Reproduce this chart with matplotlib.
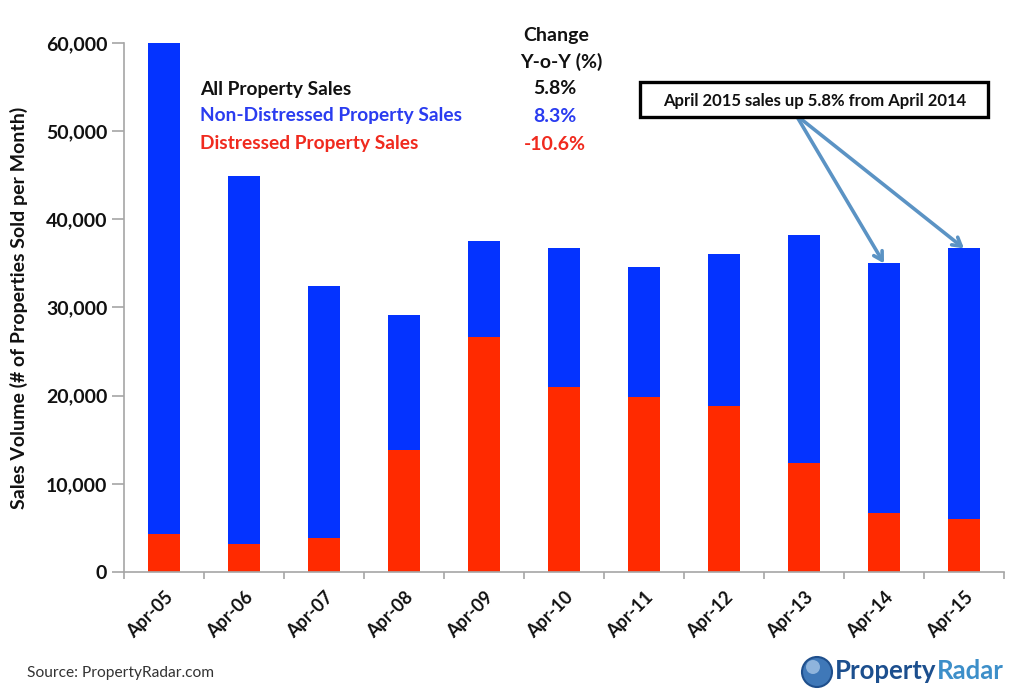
import matplotlib
matplotlib.use("Agg")
import matplotlib.pyplot as plt
from matplotlib.patches import Circle, Rectangle

months = ['Apr-05', 'Apr-06', 'Apr-07', 'Apr-08', 'Apr-09', 'Apr-10', 'Apr-11', 'Apr-12', 'Apr-13', 'Apr-14', 'Apr-15']
distressed = [4300, 3200, 3800, 13800, 26700, 21000, 19900, 18800, 12400, 6700, 6000]
non_distressed = [55700, 41700, 28600, 15400, 10800, 15800, 14700, 17300, 25800, 28300, 30700]
y_ticks = [0, 10000, 20000, 30000, 40000, 50000, 60000]
legend_names = ['All Property Sales', 'Non-Distressed Property Sales', 'Distressed Property Sales']
legend_changes = ['5.8%', '8.3%', '-10.6%']
legend_colors = ['#111111', '#2a3cf0', '#f02a1e']

W, H = 1024, 696
plt.rcParams['font.family'] = ['Lato', 'DejaVu Sans']
plt.rcParams['font.weight'] = 'bold'

fig = plt.figure(figsize=(W / 100, H / 100), dpi=100)
ax = fig.add_axes([124 / W, (H - 572) / H, 880 / W, 529 / H])

def fx(px):
    return px / W

def fy(py):
    return (H - py) / H

x = list(range(len(months)))
ax.bar(x, distressed, width=0.4, color='#ff2a00')
ax.bar(x, non_distressed, bottom=distressed, width=0.4, color='#0433ff')

ax.set_xlim(-0.5, 10.5)
ax.set_ylim(0, 60000)
ax.set_yticks(y_ticks)
ax.set_yticklabels([f'{v:,}' for v in y_ticks], fontsize=14, color='#111111', fontweight='bold')
ax.set_xticks([i - 0.5 for i in range(12)])
ax.set_xticklabels([])
ax.tick_params(axis='y', length=9, color='#a6a6a6', width=1.2, pad=3)
ax.tick_params(axis='x', length=5, color='#a6a6a6', width=1.2)
for i, m in enumerate(months):
    ax.annotate(m, xy=(i, 0), xycoords=('data', 'axes fraction'), xytext=(0, -12),
                textcoords='offset points', rotation=45, ha='right', va='top',
                rotation_mode='anchor', fontsize=13, color='#111111')
for s in ['top', 'right']:
    ax.spines[s].set_visible(False)
for s in ['left', 'bottom']:
    ax.spines[s].set_color('#a6a6a6')
    ax.spines[s].set_linewidth(1.2)
ax.set_ylabel('Sales Volume (# of Properties Sold per Month)', fontsize=14, color='#111111',
              labelpad=13, fontweight='bold')

# legend table at the top
fig.text(fx(556), fy(35), 'Change', fontsize=14, ha='center', va='center', color='#111111')
fig.text(fx(561), fy(62), 'Y-o-Y (%)', fontsize=14, ha='center', va='center', color='#111111')
for name, change, color, py in zip(legend_names, legend_changes, legend_colors, [89, 116, 144]):
    fig.text(fx(200), fy(py), name, fontsize=13.8, ha='left', va='center', color=color)
    fig.text(fx(555), fy(py), change, fontsize=14, ha='center', va='center', color=color)

# callout box with arrows
arrow_color = '#5b93c4'
for i in [9, 10]:
    ax.annotate('', xy=(i, distressed[i] + non_distressed[i]), xycoords='data',
                xytext=(fx(796), fy(115)), textcoords='figure fraction',
                arrowprops=dict(arrowstyle='->,head_length=0.6,head_width=0.35', color=arrow_color,
                                lw=2.6, shrinkA=0, shrinkB=0), annotation_clip=False)
fig.add_artist(Rectangle((fx(640), fy(117)), 348 / W, 35 / H, transform=fig.transFigure,
                         facecolor='white', edgecolor='black', linewidth=2.4))
fig.text(fx(815), fy(101), 'April 2015 sales up 5.8% from April 2014', fontsize=12,
         ha='center', va='center', color='#111111')

# footer
fig.text(fx(27), fy(673), 'Source: PropertyRadar.com', fontsize=11.2, ha='left', va='center',
         color='#333333', fontweight='normal')

# logo
logo_ax = fig.add_axes([0, 0, 1, 1], facecolor='none')
logo_ax.set_xlim(0, W)
logo_ax.set_ylim(H, 0)
logo_ax.axis('off')
logo_ax.add_patch(Circle((817, 672), 15, facecolor='#3f78b8', edgecolor='#1f4f8c', linewidth=1.5))
logo_ax.add_patch(Circle((813, 667), 7, facecolor='#8fb4dc', edgecolor='none'))
t1 = logo_ax.text(835, 671, 'Property', fontsize=18.5, ha='left', va='center', color='#1c4f8e')
fig.canvas.draw()
bb = t1.get_window_extent()
logo_ax.text(bb.x1, 671, 'Radar', fontsize=18.5, ha='left', va='center', color='#3d8fc9')

fig.savefig('out.png', dpi=100)
